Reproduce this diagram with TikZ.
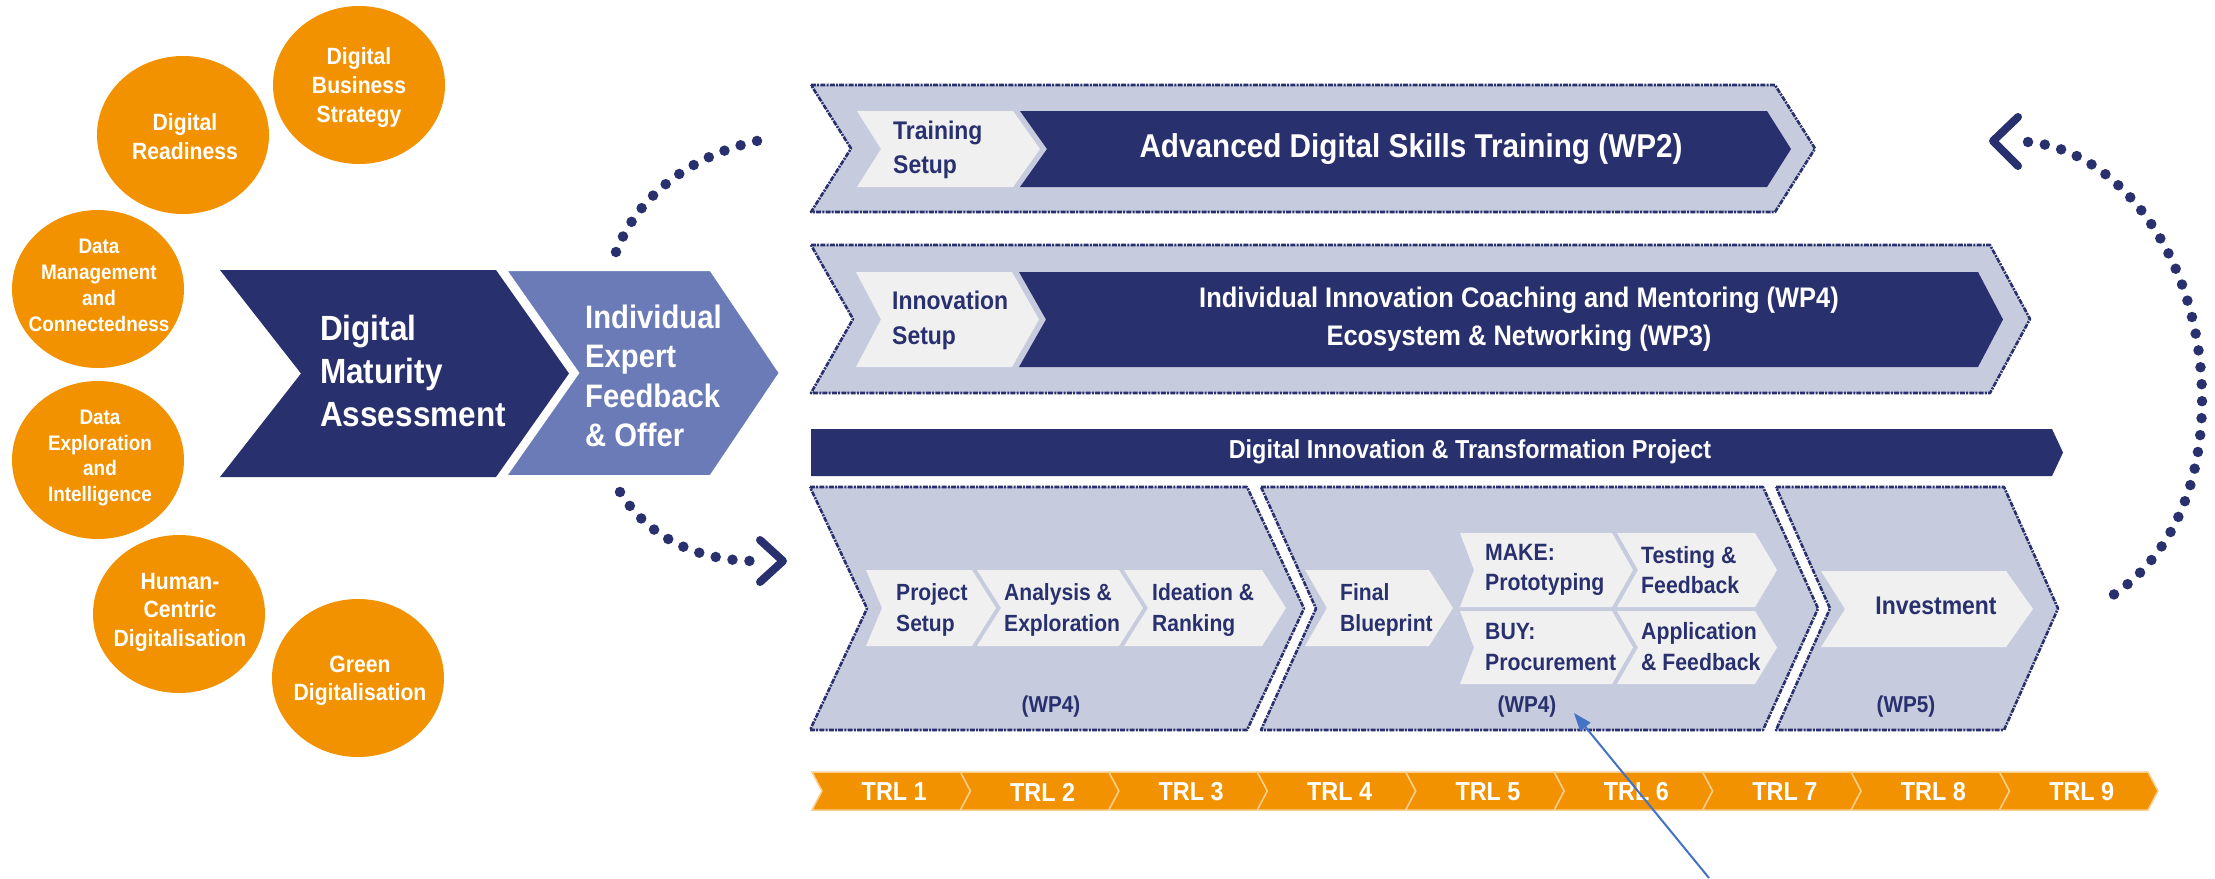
\documentclass[tikz,border=0pt]{standalone}
\usepackage{fontspec}
\setmainfont{Liberation Sans}[FakeStretch=0.9]
\usetikzlibrary{shapes.geometric,arrows.meta}
\definecolor{navy}{RGB}{41,48,110}
\definecolor{iefblue}{RGB}{106,123,184}
\definecolor{lav}{RGB}{199,203,222}
\definecolor{boxgray}{RGB}{240,240,240}
\definecolor{orng}{RGB}{243,146,0}
\definecolor{annot}{RGB}{68,114,196}
% #1 options, #2 x left, #3 x right, #4 y top, #5 y bottom, #6 notch depth, #7 tip depth
\newcommand{\chevpath}[7]{\path[#1] (#2,#4) -- (#3,#4) -- ({#3+#7},{(#4+#5)/2}) -- (#3,#5) -- (#2,#5) -- ({#2+#6},{(#4+#5)/2}) -- cycle;}
\tikzset{
  ball/.style={ellipse, fill=orng, minimum width=172pt, minimum height=158pt, inner sep=0pt},
  band/.style={fill=lav, draw=navy, line width=2.6pt, line join=round, dash pattern=on 5pt off 1.2pt on 2pt off 1.2pt},
  navyfill/.style={fill=navy},
  grayfill/.style={fill=boxgray},
  trlseg/.style={fill=orng, draw=orng!45!white, line width=1.5pt},
  txt/.style n args={3}{text=#1, font=\fontsize{#2}{#3}\selectfont\bfseries, inner sep=0pt},
  dotline/.style={navy, line width=10.5pt, line cap=round, dash pattern=on 0pt off 17pt},
  tipline/.style={navy, line width=8pt, line cap=round, line join=round},
}
\begin{document}
\begin{tikzpicture}[x=1pt,y=-1pt]
\fill[white] (0,0) rectangle (2215,878);
\useasboundingbox (0,0) rectangle (2215,878);

% ---------- orange circles ----------
\node[ball] (c1) at (359,85) {};
\node[ball] (c2) at (183,135) {};
\node[ball] (c3) at (98,289) {};
\node[ball] (c4) at (98,460) {};
\node[ball] (c5) at (179,614) {};
\node[ball] (c6) at (358,678) {};
\node[txt={white}{23.5}{29}, align=center] (t1) at ([yshift=-2pt]c1.center) {Digital\\Business\\Strategy};
\node[txt={white}{23.5}{29}, align=center] (t2) at (185,137) {Digital\\Readiness};
\node[txt={white}{21}{26}, align=center] (t3) at (99,285) {Data\\Management\\and\\Connectedness};
\node[txt={white}{21}{25.5}, align=center] (t4) at (100,458) {Data\\Exploration\\and\\Intelligence};
\node[txt={white}{23.5}{28.5}, align=center] (t5) at (180,612) {Human-\\Centric\\Digitalisation};
\node[txt={white}{23.5}{28.5}, align=center] (t6) at (360,681) {Green\\Digitalisation};

% ---------- left chevrons ----------
\chevpath{navyfill}{220}{496}{270}{477}{81}{73}
\chevpath{fill=iefblue, draw=white, line width=4pt}{504}{711}{269}{477}{73}{70}
\node[txt={white}{35}{43}, align=left, anchor=west] (dma) at (320,371) {Digital\\Maturity\\Assessment};
\node[txt={white}{32.5}{39.5}, align=left, anchor=west] (ief) at (585,376) {Individual\\Expert\\Feedback\\\& Offer};

% ---------- dotted loops ----------
\coordinate (ulA) at (616,252);
\coordinate (ulB) at (772,138);
\draw[dotline] (ulA) .. controls (640,190) and (700,150) .. (ulB);
\coordinate (llA) at (620,492);
\coordinate (llB) at (752,561);
\draw[dotline] (llA) .. controls (650,540) and (700,560) .. (llB);
\draw[tipline] (760,540) -- (783,561) -- (760,582);
\coordinate (rlTop) at (2028,142);
\coordinate (rlBot) at (2100,603);
\draw[dotline] (rlTop) .. controls (2120,150) and (2202,260) .. (2202,400) .. controls (2202,500) and (2160,570) .. (rlBot);
\draw[tipline] (2018,117) -- (1993,141) -- (2018,166);

% ---------- training band ----------
\chevpath{band}{811}{1775}{85}{212}{40}{40}
\chevpath{grayfill}{857}{1013}{111}{187}{24}{27}
\chevpath{navyfill}{1020}{1767}{111}{187}{27}{24}
\node[txt={navy}{25.5}{34}, align=left, anchor=west] (trs) at (893,150) {Training\\Setup};
\node[txt={white}{33}{38}] (adv) at (1411,149) {Advanced Digital Skills Training (WP2)};

% ---------- innovation band ----------
\chevpath{band}{811}{1990}{245}{393}{42}{40}
\chevpath{grayfill}{856}{1012}{272}{367}{25}{27}
\chevpath{navyfill}{1019}{1978}{272}{367}{27}{25}
\node[txt={navy}{25.5}{35}, align=left, anchor=west] (ins) at (892,320) {Innovation\\Setup};
\node[txt={white}{28.3}{38}, align=center] (icm) at (1519,319) {Individual Innovation Coaching and Mentoring (WP4)\\Ecosystem \& Networking (WP3)};

% ---------- project bar ----------
\chevpath{navyfill}{811}{2052}{429}{476}{0}{11}
\node[txt={white}{26}{30}] (dit) at (1470,452) {Digital Innovation \& Transformation Project};

% ---------- bottom blocks ----------
\chevpath{band}{810}{1247}{487}{730}{57}{57}
\chevpath{band}{1261}{1763}{487}{730}{55}{55}
\chevpath{band}{1776}{2004}{487}{730}{54}{54}

\chevpath{grayfill}{866}{972}{570}{646}{16}{24}
\chevpath{grayfill}{977}{1119}{570}{646}{24}{24}
\chevpath{grayfill}{1124}{1262}{570}{646}{24}{24}
\chevpath{grayfill}{1305}{1429}{570}{646}{22}{24}
\chevpath{grayfill}{1460}{1612}{533}{607}{14}{21}
\chevpath{grayfill}{1617}{1755}{533}{607}{21}{22}
\chevpath{grayfill}{1460}{1612}{611}{684}{14}{21}
\chevpath{grayfill}{1617}{1755}{611}{684}{21}{22}
\chevpath{grayfill}{1821}{2006}{571}{647}{24}{27}

\node[txt={navy}{23.4}{31}, align=left, anchor=west] (ps) at (896,610) {Project\\Setup};
\node[txt={navy}{23.4}{31}, align=left, anchor=west] (ae) at (1004,610) {Analysis \&\\Exploration};
\node[txt={navy}{23.4}{31}, align=left, anchor=west] (ir) at (1152,610) {Ideation \&\\Ranking};
\node[txt={navy}{23.4}{31}, align=left, anchor=west] (fb) at (1340,610) {Final\\Blueprint};
\node[txt={navy}{23.6}{30}, align=left, anchor=west] (mk) at (1485,570) {MAKE:\\Prototyping};
\node[txt={navy}{23.6}{30}, align=left, anchor=west] (tf) at (1641,570) {Testing \&\\Feedback};
\node[txt={navy}{23.6}{31}, align=left, anchor=west] (by) at (1485,647) {BUY:\\Procurement};
\node[txt={navy}{23.6}{31}, align=left, anchor=west] (af) at (1641,647) {Application\\\& Feedback};
\node[txt={navy}{25.5}{30}] (inv) at (1936,606) {Investment};
\node[txt={navy}{23}{28}] (wpa) at (1051,707) {(WP4)};
\node[txt={navy}{23}{28}] (wpb) at (1527,707) {(WP4)};
\node[txt={navy}{23}{28}] (wpc) at (1906,707) {(WP5)};

% ---------- TRL bar ----------
\foreach \i [evaluate=\i as \xl using 812+(\i-1)*148.44, evaluate=\i as \xr using 812+\i*148.44] in {1,...,9} {
  \chevpath{trlseg}{\xl}{\xr}{772}{810}{10}{10}
  \node[txt={white}{26}{30}] (trl\i) at ({(\xl+\xr)/2+8},792) {TRL \i};
}

% ---------- annotation arrow ----------
\coordinate (anS) at (1709,878);
\coordinate (anT) at (1574,713);
\draw[annot, line width=2pt, -{Triangle[length=18pt,width=13pt]}] (anS) -- (anT);
\end{tikzpicture}
\end{document}
